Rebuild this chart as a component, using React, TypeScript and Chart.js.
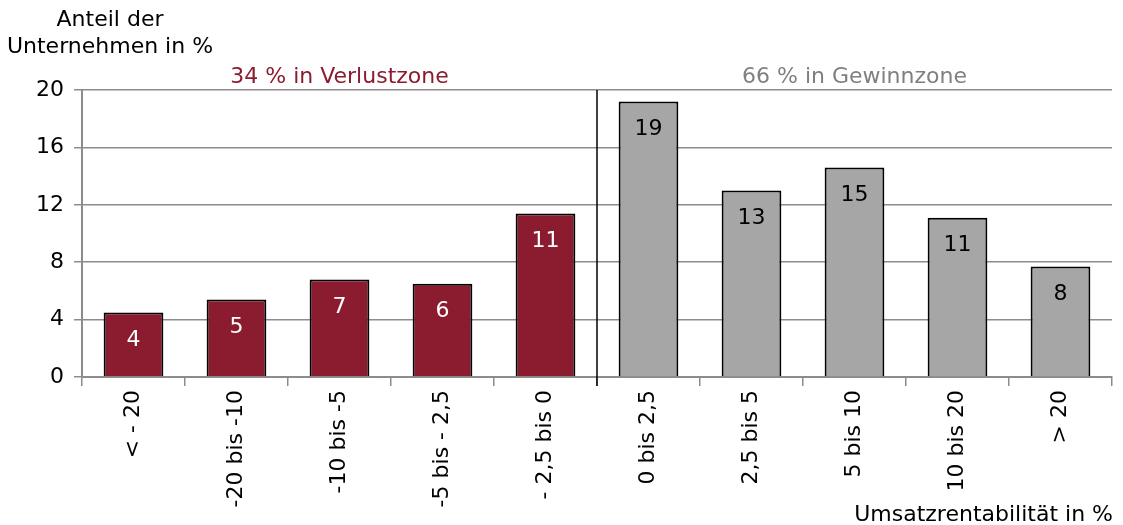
import React, { useEffect, useRef } from "react";
import { Chart, registerables } from "chart.js";

Chart.register(...registerables);

const categories = ["< - 20", "-20 bis -10", "-10 bis -5", "-5 bis - 2,5", "- 2,5 bis 0", "0 bis 2,5", "2,5 bis 5", "5 bis 10", "10 bis 20", "> 20"];
const values = [4.5, 5.4, 6.8, 6.5, 11.4, 19.2, 13.0, 14.6, 11.1, 7.7];
const valueLabels = ["4", "5", "7", "6", "11", "19", "13", "15", "11", "8"];
const barColors = ["#8B1C2F", "#8B1C2F", "#8B1C2F", "#8B1C2F", "#8B1C2F", "#A6A6A6", "#A6A6A6", "#A6A6A6", "#A6A6A6", "#A6A6A6"];
const labelColors = ["#ffffff", "#ffffff", "#ffffff", "#ffffff", "#ffffff", "#000000", "#000000", "#000000", "#000000", "#000000"];
const yTicks = [0, 4, 8, 12, 16, 20];
const zoneLeft = "34 % in Verlustzone";
const zoneRight = "66 % in Gewinnzone";
const yTitle = ["Anteil der", "Unternehmen in %"];
const xTitle = "Umsatzrentabilität in %";
const splitIndex = 5;

const FONT = "DejaVu Sans";
const FS = 22;

export default function App() {
  const ref = useRef<HTMLCanvasElement>(null);
  useEffect(() => {
    if (!ref.current) return;
    const overlay = {
      id: "overlay",
      afterDatasetsDraw(chart: any) {
        const { ctx, chartArea } = chart;
        const x = chart.scales.x;
        const meta = chart.getDatasetMeta(0);
        ctx.save();
        ctx.font = `${FS}px '${FONT}'`;
        ctx.textAlign = "center";
        ctx.textBaseline = "middle";
        meta.data.forEach((bar: any, i: number) => {
          ctx.fillStyle = labelColors[i];
          ctx.fillText(valueLabels[i], bar.x, bar.y + 28);
        });
        const xd = (x.getPixelForValue(splitIndex - 1) + x.getPixelForValue(splitIndex)) / 2;
        ctx.strokeStyle = "#000";
        ctx.lineWidth = 1.5;
        ctx.beginPath();
        ctx.moveTo(xd, chartArea.top);
        ctx.lineTo(xd, chartArea.bottom + 9);
        ctx.stroke();
        ctx.textBaseline = "alphabetic";
        ctx.fillStyle = "#8B1C2F";
        ctx.fillText(zoneLeft, (chartArea.left + xd) / 2, chartArea.top - 7);
        ctx.fillStyle = "#808080";
        ctx.fillText(zoneRight, (chartArea.right + xd) / 2, chartArea.top - 7);
        ctx.fillStyle = "#000";
        ctx.fillText(yTitle[0], 110, 26);
        ctx.fillText(yTitle[1], 110, 53);
        ctx.textAlign = "right";
        ctx.fillText(xTitle, chartArea.right + 1, 521);
        ctx.restore();
      },
    };
    const chart = new Chart(ref.current, {
      type: "bar",
      data: {
        labels: categories,
        datasets: [
          {
            data: values,
            backgroundColor: barColors,
            borderColor: "#000",
            borderWidth: 2,
            borderSkipped: "bottom",
            categoryPercentage: 1,
            barPercentage: 0.58,
          },
        ],
      },
      options: {
        animation: false,
        responsive: false,
        maintainAspectRatio: false,
        layout: { padding: { top: 90, right: 11, left: 0, bottom: 0 } },
        plugins: { legend: { display: false }, tooltip: { enabled: false }, title: { display: false } },
        scales: {
          x: {
            grid: { drawOnChartArea: false, drawTicks: true, tickLength: 9, color: "#8c8c8c", lineWidth: 1.5, offset: true },
            border: { color: "#8c8c8c", width: 2 },
            ticks: { color: "#000", font: { family: FONT, size: FS }, minRotation: 90, maxRotation: 90, autoSkip: false, padding: 4 },
            afterFit(scale: any) { scale.height = 525 - 377; },
          },
          y: {
            min: 0,
            max: 20,
            afterBuildTicks(scale: any) { scale.ticks = yTicks.map((v) => ({ value: v })); },
            grid: { color: "#8c8c8c", lineWidth: 1.5, tickLength: 8 },
            border: { color: "#8c8c8c", width: 2 },
            ticks: { color: "#000", font: { family: FONT, size: FS }, padding: 10 },
            afterFit(scale: any) { scale.width = 82; },
          },
        },
      },
      plugins: [overlay],
    });
    return () => chart.destroy();
  }, []);
  return (
    <div style={{ position: "fixed", left: 0, top: 0, width: 1123, height: 525, background: "#fff" }}>
      <canvas ref={ref} width={1123} height={525} style={{ width: 1123, height: 525, display: "block" }} />
    </div>
  );
}
